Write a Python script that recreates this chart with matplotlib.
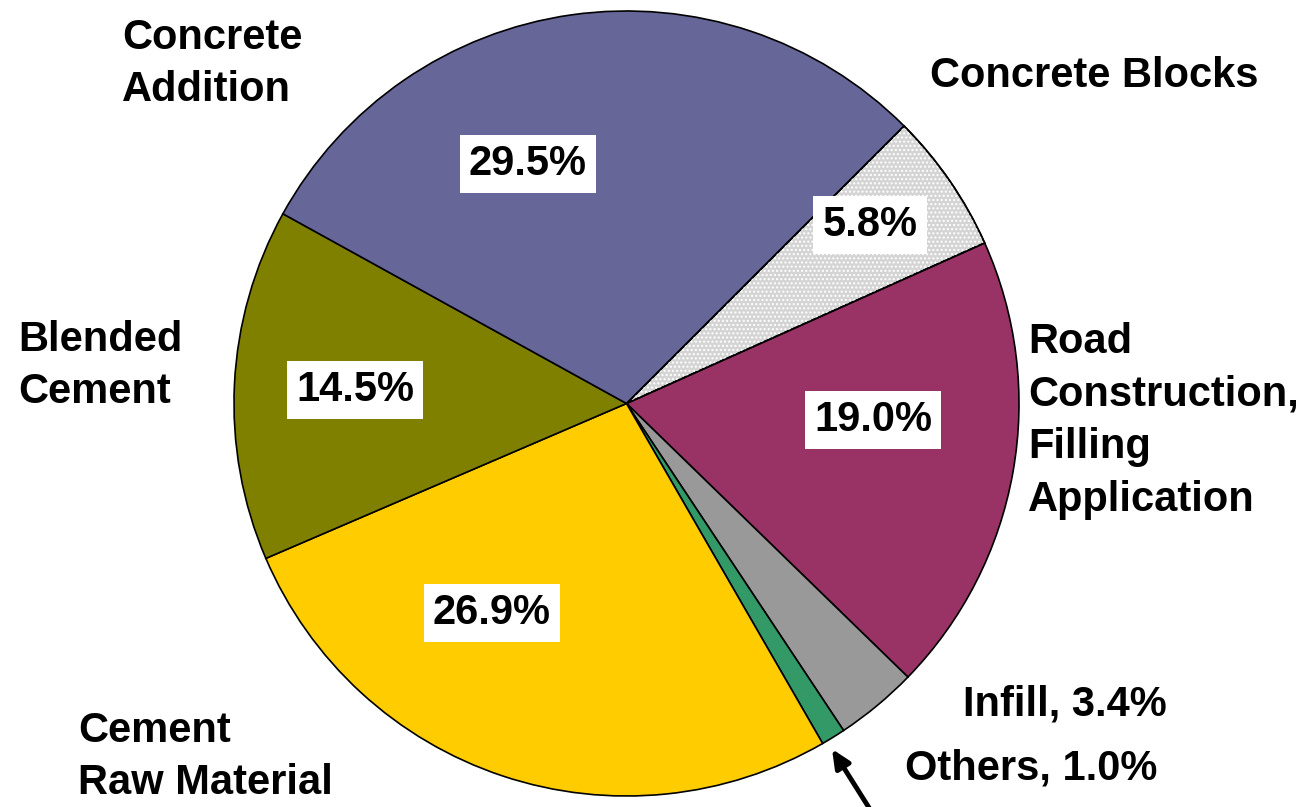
import matplotlib
matplotlib.use("Agg")
import matplotlib.pyplot as plt
from matplotlib.patches import Wedge

plt.rcParams['font.family'] = ['Liberation Sans', 'DejaVu Sans']

categories = ["Concrete Blocks", "Road Construction, Filling Application", "Infill",
              "Others", "Cement Raw Material", "Blended Cement", "Concrete Addition"]
values = [5.8, 19.0, 3.4, 1.0, 26.9, 14.5, 29.5]
colors = ["#D4D4D4", "#993366", "#999999", "#339966", "#FFCC00", "#808000", "#666699"]

W, H = 1306, 807
fig = plt.figure(figsize=(W / 100, H / 100), dpi=100)
ax = fig.add_axes([0, 0, 1, 1])

cx, cy, R = 626.5, 403.5, 392.5

wedges, _ = ax.pie(values, colors=colors, startangle=45, counterclock=False,
                   center=(cx, cy), radius=R, frame=True,
                   wedgeprops=dict(edgecolor='black', linewidth=1.2))
ax.set_xlim(0, W)
ax.set_ylim(0, H)
ax.axis('off')

# dotted pattern for Concrete Blocks
w0 = wedges[0]
dots = Wedge((cx, cy), R, w0.theta1, w0.theta2, facecolor='none',
             edgecolor='white', linewidth=0, hatch='....', zorder=w0.get_zorder() + 0.1)
ax.add_patch(dots)
outline = Wedge((cx, cy), R, w0.theta1, w0.theta2, facecolor='none',
                edgecolor='black', linewidth=1.2, zorder=w0.get_zorder() + 0.2)
ax.add_patch(outline)

def py(y):
    return H - y

fs_in = 30
box = dict(boxstyle='square,pad=0.22', facecolor='white', edgecolor='none')
pct_pos = {"Concrete Addition": (528, 164), "Concrete Blocks": (870, 225),
           "Road Construction, Filling Application": (873, 420),
           "Blended Cement": (355, 390), "Cement Raw Material": (492, 613)}
for cat, v in zip(categories, values):
    if cat in pct_pos:
        x, y = pct_pos[cat]
        ax.text(x, py(y), f"{v:.1f}%", ha='center', va='center', fontsize=fs_in,
                fontweight='bold', bbox=box, zorder=10)

fs_out = 30
ls = 1.41
ax.text(122, py(64), "Concrete\nAddition", ha='left', va='center', fontsize=fs_out,
        fontweight='bold', linespacing=ls)
ax.text(930, py(76), "Concrete Blocks", ha='left', va='center', fontsize=fs_out,
        fontweight='bold')
ax.text(18, py(366), "Blended\nCement", ha='left', va='center', fontsize=fs_out,
        fontweight='bold', linespacing=ls)
ax.text(1028, py(421), "Road\nConstruction,\nFilling\nApplication", ha='left',
        va='center', fontsize=fs_out, fontweight='bold', linespacing=ls)
ax.text(963, py(705), f"Infill, {values[2]:.1f}%", ha='left', va='center',
        fontsize=fs_out, fontweight='bold')
ax.text(905, py(768), f"Others, {values[3]:.1f}%", ha='left', va='center',
        fontsize=fs_out, fontweight='bold')
ax.text(78, py(757), "Cement\nRaw Material", ha='left', va='center', fontsize=fs_out,
        fontweight='bold', linespacing=ls)

ax.annotate("", xy=(832, py(749)), xytext=(878, py(822)),
            arrowprops=dict(arrowstyle='-|>,head_length=1.1,head_width=0.5',
                            color='black', lw=3.5, shrinkA=0, shrinkB=0),
            annotation_clip=False)

fig.savefig("out.png", dpi=100)
